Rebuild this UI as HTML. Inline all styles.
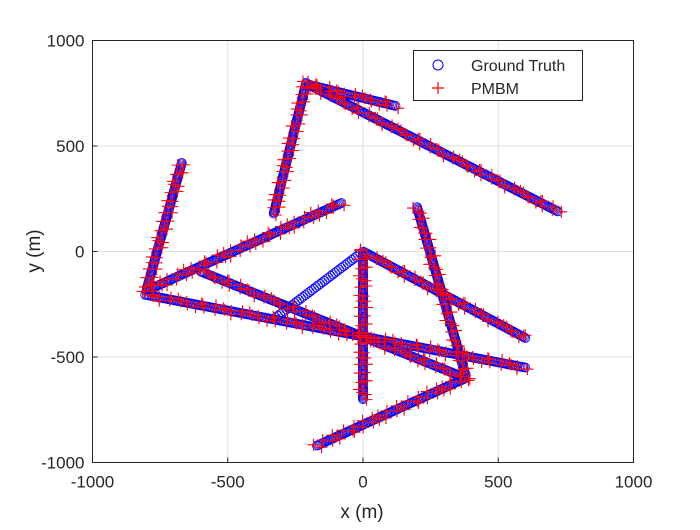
<!DOCTYPE html>
<html><head><meta charset="utf-8"><style>
body{margin:0;background:#fff;}
svg text{font-family:"Liberation Sans",Arial,sans-serif;fill:#262626;}
</style></head><body>
<svg id="chart" width="700" height="525">
<rect x="0" y="0" width="700" height="525" fill="#fff"/>
<g id="grid"></g>
<g id="gt"></g>
<g id="pm"></g>
<rect x="92.5" y="40.5" width="541" height="422" fill="none" stroke="#262626" stroke-width="1"/>
<g id="ticks"></g>
<text x="362" y="518" font-size="19" text-anchor="middle">x (m)</text>
<text transform="translate(40,251) rotate(-90)" font-size="19" text-anchor="middle">y (m)</text>
<g>
<rect x="413.5" y="50.5" width="169" height="50" fill="#fff" stroke="#262626" stroke-width="1"/>
<circle cx="438" cy="65" r="5" fill="none" stroke="#0000ff"/>
<text x="471" y="71" font-size="16">Ground Truth</text>
<path d="M432,88h12M438,82v12" stroke="#ff0000" stroke-width="1.2"/>
<text x="471" y="94" font-size="16">PMBM</text>
</g>
</svg>
<script>
const xTicks=[-1000,-500,0,500,1000];
const yTicks=[-1000,-500,0,500,1000];
// trajectory segments: start x, start y, end x, end y (metres)
const segX0=[-670,-800,-805,-600,0,0,200,380,-330,-200,-200,-330];
const segY0=[420,-185,-205,-95,-10,0,210,-600,180,790,790,-320];
const segX1=[-800,-80,600,380,0,600,380,-170,-210,120,720,-10];
const segY1=[-180,230,-550,-600,-700,-410,-590,-920,800,690,190,-10];
const segHasPMBM=[1,1,1,1,1,1,1,1,1,1,1,0];
const jitterX=[7,-12,4,14,-6,-15,10,-3,13,-9,2,-13,8,-4,15,-10];
const jitterY=[-9,6,-14,3,12,-4,-11,15,-2,9,-16,4,-7,11,-3,14];

const X0=92.5,X1=633.5,Y0=462.5,Y1=40.5;
const sx=v=>X0+(v+1000)/2000*(X1-X0);
const sy=v=>Y0-(v+1000)/2000*(Y0-Y1);
const NS='http://www.w3.org/2000/svg';
function mk(tag,attrs,parent){const e=document.createElementNS(NS,tag);for(const k in attrs)e.setAttribute(k,attrs[k]);parent.appendChild(e);return e;}
const grid=document.getElementById('grid'),ticks=document.getElementById('ticks');
xTicks.forEach(t=>{
  const g=mk('line',{x1:sx(t),x2:sx(t),y1:Y0,y2:Y1,stroke:'#dfdfdf'},grid);
  
  
  const k=mk('line',{x1:sx(t),x2:sx(t),y1:Y0,y2:Y0-5,stroke:'#262626'},ticks);
  
  
  const l=mk('text',{x:sx(t),y:Y0+25,'font-size':17,'text-anchor':'middle'},ticks);
  l.textContent=t;
  
  
});
yTicks.forEach(t=>{
  const g=mk('line',{x1:X0,x2:X1,y1:sy(t),y2:sy(t),stroke:'#dfdfdf'},grid);
  
  
  const k=mk('line',{x1:X0,x2:X0+5,y1:sy(t),y2:sy(t),stroke:'#262626'},ticks);
  
  
  const l=mk('text',{x:X0-8,y:sy(t)+6,'font-size':17,'text-anchor':'end'},ticks);
  l.textContent=t;
  
  
});
const gt=document.getElementById('gt'),pm=document.getElementById('pm');
let ji=0;
for(let s=0;s<segX0.length;s++){
  const dx=segX1[s]-segX0[s],dy=segY1[s]-segY0[s];
  const len=Math.hypot(dx,dy);
  const n=Math.max(2,Math.round(len/(segHasPMBM[s]?6:11)));
  for(let i=0;i<=n;i++){
    const f=i/n;
    const c=mk('circle',{cx:sx(segX0[s]+dx*f),cy:sy(segY0[s]+dy*f),r:4.5,fill:'none',stroke:'#0000ff','stroke-width':0.8},gt);
    
    
  }
  if(!segHasPMBM[s])continue;
  const m=Math.max(2,Math.round(len/17));
  for(let i=0;i<=m;i++){
    const f=i/m;
    const px=sx(segX0[s]+dx*f+jitterX[ji%16]),py=sy(segY0[s]+dy*f+jitterY[ji%16]);
    ji++;
    const p=mk('path',{d:`M${px-6},${py}h12M${px},${py-6}v12`,stroke:'#ff0000','stroke-width':1.1},pm);
    
    
  }
}
</script>
</body></html>
